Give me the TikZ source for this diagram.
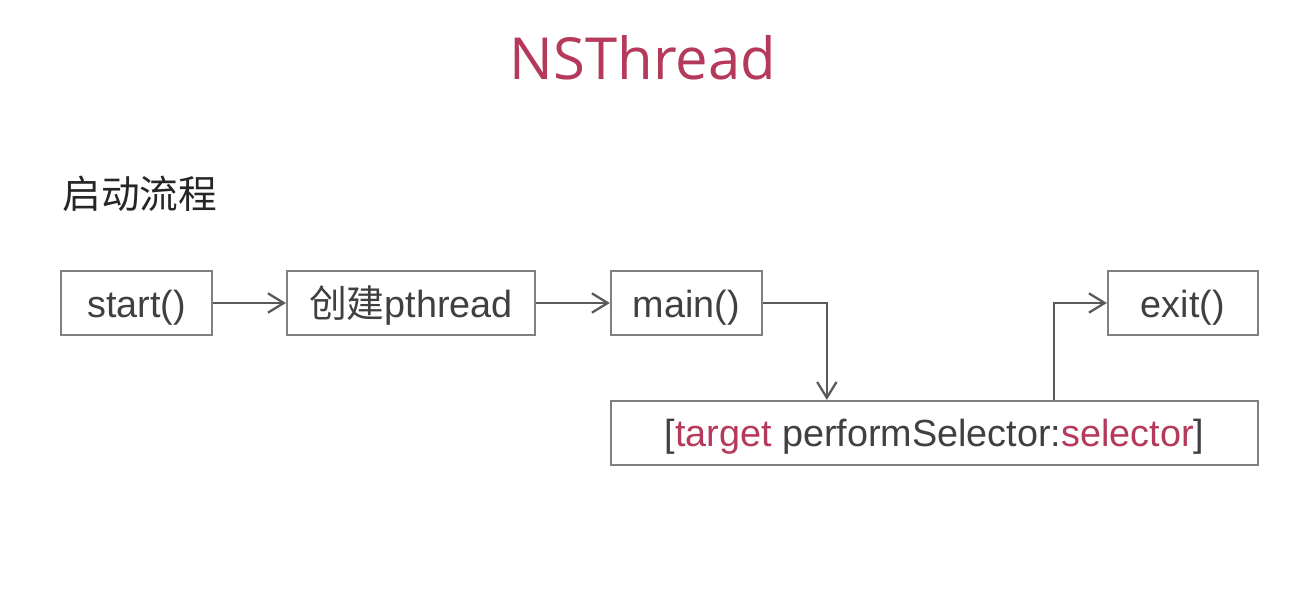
\documentclass[tikz,border=0pt]{standalone}
\usepackage{fontspec}
\setmainfont{Liberation Sans}
\newfontfamily\titlefont{Open Sans}
\newfontfamily\cjk{Noto Sans CJK SC}
\usetikzlibrary{arrows.meta}
\usetikzlibrary{positioning}

\definecolor{boxgray}{RGB}{128,128,128}
\definecolor{arrgray}{RGB}{90,90,90}
\definecolor{txtgray}{RGB}{64,64,64}
\definecolor{nsred}{RGB}{181,57,90}

\tikzset{
	stepbox/.style={draw=boxgray, line width=1.1pt, minimum height=1.28cm, inner sep=0pt,
		text height=16pt, text depth=0pt, text=txtgray, font=\fontsize{21.5}{24}\selectfont},
	flow/.style={draw=arrgray, line width=1.1pt, -{Straight Barb[length=9pt,width=11pt,line width=1.3pt]}}
}

\begin{document}
\begin{tikzpicture}
		\useasboundingbox[fill=white] (0,0) rectangle (25.92,12);
		\node[text=nsred, font=\titlefont\fontsize{33}{36}\selectfont] (title) at (12.86,10.84) {NSThread};
		\node[anchor=west, text=black!85, font=\cjk\fontsize{22}{26}\selectfont, inner sep=0pt] (heading) at (1.24,8.12) {启动流程};
		% first row
		\node[stepbox, minimum width=3.02cm] (start) at (2.73,5.94) {start()};
		\node[stepbox, minimum width=4.96cm, right=1.46cm of start] (create) {{\cjk 创建}pthread};
		\node[stepbox, minimum width=3.02cm, right=1.48cm of create] (main) {main()};
		% selector and exit
		\node[stepbox, minimum width=12.94cm, anchor=north west] (sel) at ([yshift=-1.28cm]main.south west)
			{[\textcolor{nsred}{target} performSelector:\textcolor{nsred}{selector}]};
		\node[stepbox, minimum width=3.0cm, anchor=north east] (exit) at (sel.east |- main.north) {exit()};
		\coordinate (down) at ([xshift=1.28cm]main.east);
		\coordinate (up) at ([xshift=-1.06cm]exit.west);
		\draw[flow] (start) -- (create);
		\draw[flow] (create) -- (main);
		\draw[flow] (main.east) -| (down |- sel.north);
		\draw[flow] (up |- sel.north) |- (exit.west);
	\end{tikzpicture}
\end{document}
